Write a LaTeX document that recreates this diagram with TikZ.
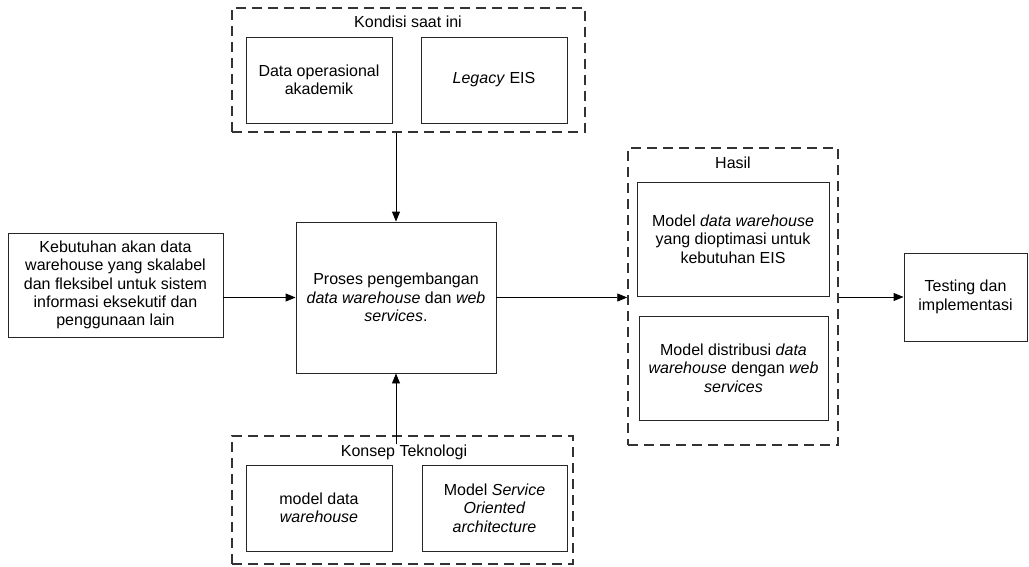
\documentclass[tikz,border=0pt]{standalone}
\usepackage{fontspec}
\setmainfont{Liberation Sans}
\usetikzlibrary{arrows.meta}
\begin{document}
\begin{tikzpicture}[x=1pt,y=-1pt,
 box/.style={draw=black!85, line width=0.9pt, inner sep=0pt, align=center, font=\fontsize{16}{18.4}\selectfont},
 grp/.style={draw=black!80, line width=1.5pt, dash pattern=on 10pt off 6pt, inner sep=0pt},
 ttl/.style={inner sep=0pt, font=\fontsize{16}{18.4}\selectfont},
 arr/.style={draw=black, line width=0.9pt, -{Triangle[length=10pt,width=8pt]}}]
\useasboundingbox (0,0) rectangle (1029,566);

% top group
\node[grp, minimum width=353pt, minimum height=124pt] (g1) at (408.5,70) {};
\node[ttl] (t1) at (408,22) {Kondisi saat ini};
\node[box, minimum width=146pt, minimum height=86pt] (a1) at (319,80) {Data operasional\\akademik};
\node[box, minimum width=146pt, minimum height=86pt] (a2) at (494,80) {\textit{Legacy} EIS};

% process
\node[box, minimum width=200pt, minimum height=151pt] (p) at (396,297.5) {Proses pengembangan\\\textit{data warehouse} dan \textit{web}\\\textit{services}.};

% left
\node[box, minimum width=215pt, minimum height=104pt] (l) at (115.5,285) {Kebutuhan akan data\\warehouse yang skalabel\\dan fleksibel untuk sistem\\informasi eksekutif dan\\penggunaan lain};

% hasil group
\node[grp, minimum width=210pt, minimum height=297pt] (g3) at (733,296.5) {};
\node[ttl] (t3) at (733,163) {Hasil};
\node[box, minimum width=192pt, minimum height=114pt] (h1) at (733,239) {Model \textit{data warehouse}\\yang dioptimasi untuk\\kebutuhan EIS};
\node[box, minimum width=189pt, minimum height=104pt] (h2) at (733.5,368) {Model distribusi \textit{data}\\\textit{warehouse} dengan \textit{web}\\\textit{services}};

% testing
\node[box, minimum width=123pt, minimum height=88pt] (t) at (965.5,297) {Testing dan\\implementasi};

% bottom group
\node[grp, minimum width=341pt, minimum height=128pt] (g2) at (402.5,500) {};
\node[ttl] (t2) at (404,452) {Konsep Teknologi};
\node[box, minimum width=146pt, minimum height=86pt] (b1) at (319,508) {model data\\\textit{warehouse}};
\node[box, minimum width=145pt, minimum height=86pt] (b2) at (494.5,508) {Model \textit{Service}\\\textit{Oriented}\\\textit{architecture}};

% arrows
\draw[arr] (l.east |- p.west) -- (p.west);
\draw[arr] (p.east) -- (g3.west |- p.east);
\draw[arr] (g3.east |- t.west) -- (t.west);
\draw[arr] (g1.south -| p.north) -- (p.north);
\draw[arr] (t2.north -| p.south) -- (p.south);
\end{tikzpicture}
\end{document}
